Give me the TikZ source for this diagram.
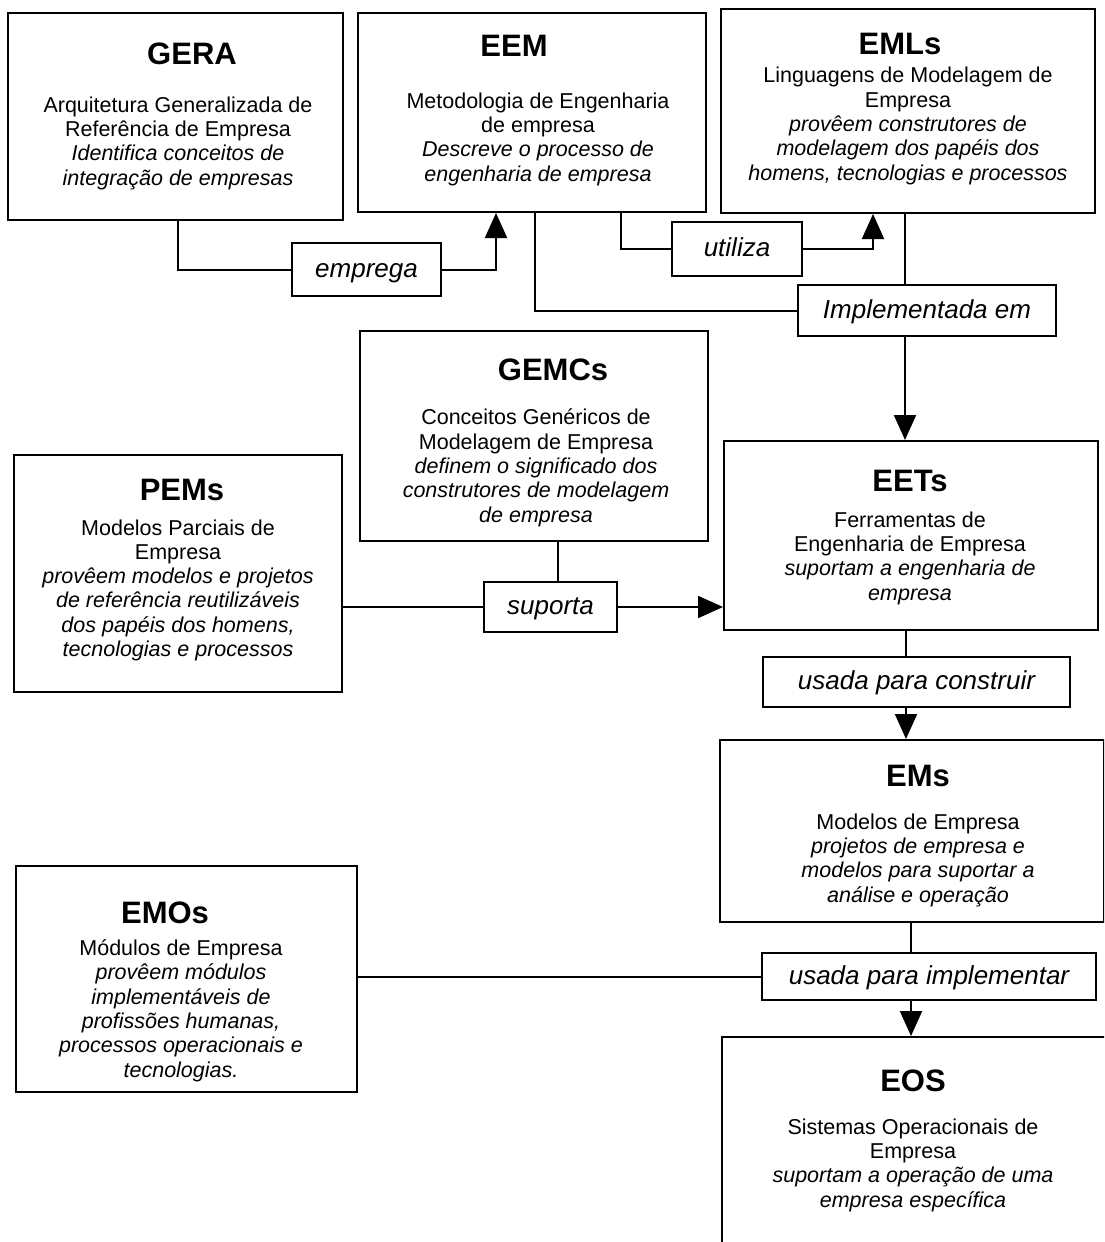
\documentclass[tikz,border=0pt]{standalone}
\usepackage{fontspec}
\setmainfont{Liberation Sans}
\usetikzlibrary{arrows.meta}
\newcommand{\itl}[1]{\textit{#1}}
\begin{document}
\begin{tikzpicture}[x=1pt,y=-1pt,
  box/.style={draw, line width=2pt, inner sep=0pt},
  lbl/.style={draw, line width=2pt, inner sep=0pt, text height=18pt, text depth=3pt, font=\fontsize{26}{30}\selectfont\itshape},
  ttl/.style={font=\fontsize{31}{35}\selectfont\bfseries, inner sep=0pt, anchor=base},
  txt/.style={font=\fontsize{21.5}{24.3}\selectfont, align=center, inner sep=0pt, anchor=base},
  conn/.style={line width=2pt},
  arr/.style={conn, -{Triangle[width=22pt,length=25pt]}}]
\useasboundingbox (0,0) rectangle (1104,1242);
\clip (0,0) rectangle (1104,1242);
\fill[white] (0,0) rectangle (1104,1242);
% boxes
\node[box, minimum width=335pt, minimum height=207pt] (gera) at (175.5,116.5) {};
\node[box, minimum width=348pt, minimum height=199pt] (eem) at (532,112.5) {};
\node[box, minimum width=374pt, minimum height=204pt] (emls) at (908,111) {};
\node[box, minimum width=348pt, minimum height=210pt] (gemcs) at (534,436) {};
\node[box, minimum width=328pt, minimum height=237pt] (pems) at (178,573.5) {};
\node[box, minimum width=374pt, minimum height=189pt] (eets) at (911,535.5) {};
\node[box, minimum width=384pt, minimum height=182pt] (ems) at (912,831) {};
\node[box, minimum width=341pt, minimum height=226pt] (emos) at (186.5,979) {};
\node[box, minimum width=398pt, minimum height=223pt] (eos) at (921,1148.5) {};
% titles
\node[ttl] (t1) at (192,64) {GERA};
\node[ttl] (t2) at (514,56) {EEM};
\node[ttl] (t3) at (900,54) {EMLs};
\node[ttl] (t4) at (553,380) {GEMCs};
\node[ttl] (t5) at (182,500) {PEMs};
\node[ttl] (t6) at (910,491) {EETs};
\node[ttl] (t7) at (918,786) {EMs};
\node[ttl] (t8) at (165,923) {EMOs};
\node[ttl] (t9) at (913,1091) {EOS};
% bodies (anchor = baseline of last line)
\node[txt] (b1) at (178,185) {Arquitetura Generalizada de\\Referência de Empresa\\\itl{Identifica conceitos de}\\\itl{integração de empresas}};
\node[txt] (b2) at (538,181) {Metodologia de Engenharia\\de empresa\\\itl{Descreve o processo de}\\\itl{engenharia de empresa}};
\node[txt] (b3) at (908,180) {Linguagens de Modelagem de\\Empresa\\\itl{provêem construtores de}\\\itl{modelagem dos papéis dos}\\\itl{homens, tecnologias e processos}};
\node[txt] (b4) at (536,522) {Conceitos Genéricos de\\Modelagem de Empresa\\\itl{definem o significado dos}\\\itl{construtores de modelagem}\\\itl{de empresa}};
\node[txt] (b5) at (178,656.5) {Modelos Parciais de\\Empresa\\\itl{provêem modelos e projetos}\\\itl{de referência reutilizáveis}\\\itl{dos papéis dos homens,}\\\itl{tecnologias e processos}};
\node[txt] (b6) at (910,600) {Ferramentas de\\Engenharia de Empresa\\\itl{suportam a engenharia de}\\\itl{empresa}};
\node[txt] (b7) at (918,902) {Modelos de Empresa\\\itl{projetos de empresa e}\\\itl{modelos para suportar a}\\\itl{análise e operação}};
\node[txt] (b8) at (181,1077) {Módulos de Empresa\\\itl{provêem módulos}\\\itl{implementáveis de}\\\itl{profissões humanas,}\\\itl{processos operacionais e}\\\itl{tecnologias.}};
\node[txt] (b9) at (913,1207) {Sistemas Operacionais de\\Empresa\\\itl{suportam a operação de uma}\\\itl{empresa específica}};
% labels
\node[lbl, minimum width=149pt, minimum height=53pt] (emprega) at (366.5,269.5) {emprega};
\node[lbl, minimum width=130pt, minimum height=54pt] (utiliza) at (737,249) {utiliza};
\node[lbl, minimum width=258pt, minimum height=51pt] (impl) at (927,310.5) {Implementada em};
\node[lbl, minimum width=133pt, minimum height=50pt] (suporta) at (550.5,607) {suporta};
\node[lbl, minimum width=307pt, minimum height=50pt] (uc) at (916.5,682) {usada para construir};
\node[lbl, minimum width=334pt, minimum height=47pt] (ui) at (929,976.5) {usada para implementar};
% guide coordinates
\coordinate (g1) at (178,0);
\coordinate (g2) at (496,0);
\coordinate (g3) at (621,0);
\coordinate (g4) at (873,0);
\coordinate (g5) at (535,0);
\coordinate (g6) at (905,0);
\coordinate (g7) at (558,0);
\coordinate (g8) at (906,0);
\coordinate (g9) at (911,0);
% connectors
\draw[conn] (gera.south -| g1) |- (emprega.west);
\draw[arr] (emprega.east) -| (eem.south -| g2);
\draw[conn] (eem.south -| g3) |- (utiliza.west);
\draw[arr] (utiliza.east) -| (emls.south -| g4);
\draw[conn] (eem.south -| g5) |- (impl.west);
\draw[conn] (emls.south -| g6) -- (impl.north -| g6);
\draw[arr] (impl.south -| g6) -- (eets.north -| g6);
\draw[conn] (gemcs.south -| g7) -- (suporta.north -| g7);
\draw[conn] (pems.east |- suporta.west) -- (suporta.west);
\draw[arr] (suporta.east) -- (eets.west |- suporta.east);
\draw[conn] (eets.south -| g8) -- (uc.north -| g8);
\draw[arr] (uc.south -| g8) -- (ems.north -| g8);
\draw[conn] (ems.south -| g9) -- (ui.north -| g9);
\draw[arr] (ui.south -| g9) -- (eos.north -| g9);
\draw[conn] (emos.east |- ui.west) -- (ui.west);
\end{tikzpicture}
\end{document}
